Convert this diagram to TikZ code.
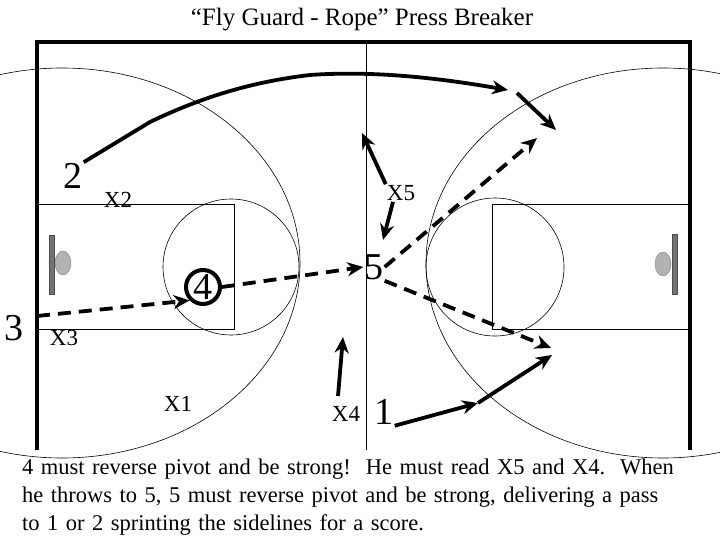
\documentclass[tikz,border=0pt]{standalone}
\usepackage{fontspec}
\setmainfont{Liberation Serif}
\usetikzlibrary{arrows.meta}
\begin{document}
\begin{tikzpicture}[x=1pt,y=-1pt,
 court/.style={line width=0.6pt},
 edge/.style={line width=3.5pt},
 run/.style={line width=3.8pt,-{Stealth[length=16pt,width=14pt]}},
 pass/.style={run,dash pattern=on 13pt off 8pt},
 off/.style={font=\fontsize{38}{38}\selectfont,inner sep=1pt},
 def/.style={font=\fontsize{23}{23}\selectfont,inner sep=1pt}]
\useasboundingbox (0,0) rectangle (720,540);
\begin{scope}
\clip (0,30) rectangle (720,458);
\draw[court] (62,263) ellipse [x radius=238, y radius=195];
\draw[court] (663,263) ellipse [x radius=237, y radius=195];
\end{scope}
\draw[edge] (37,450) -- (37,42) -- (690,42) -- (690,450);
\draw[court] (366,42) -- (366,450);
\draw[court] (37,204) -- (234,204) -- (234,329) -- (37,329);
\draw[court] (231,267) circle [radius=68];
\draw[court] (690,204) -- (492,204) -- (492,329) -- (690,329);
\draw[court] (495,267) circle [radius=69];
\draw[fill=gray!90!black,draw=black!70] (49,235) rectangle (54,294);
\draw[fill=gray!60,draw=black!50] (63,263) ellipse [x radius=8, y radius=12];
\draw[fill=gray!90!black,draw=black!70] (672,234) rectangle (677,294);
\draw[fill=gray!60,draw=black!50] (663,264) ellipse [x radius=8, y radius=12];
\node[font=\fontsize{25}{25}\selectfont] (title) at (362,20) {“Fly Guard - Rope” Press Breaker};
\node[off] (p2) at (73,176) {2};
\node[off] (p3) at (14,328) {3};
\node[off,circle,draw,line width=4pt,inner sep=0pt,minimum size=34pt] (p4) at (203,287) {4};
\node[off] (p5) at (374,267) {5};
\node[off] (p1) at (384,412) {1};
\node[def] (x2) at (118,200) {X2};
\node[def] (x5) at (401,193) {X5};
\node[def] (x3) at (64,338) {X3};
\node[def] (x1) at (178,404) {X1};
\node[def] (x4) at (346,414) {X4};
\coordinate (a2) at (508,90);
\coordinate (a2b) at (517,93);
\coordinate (a2c) at (556,130);
\coordinate (s3) at (37,316);
\coordinate (q1) at (537,138);
\coordinate (q2) at (551,348);
\coordinate (m1) at (478,403);
\coordinate (e1) at (552,355);
\draw[run] (p2.north east) -- (150,122) .. controls (200,98) and (250,82) .. (310,75) .. controls (380,70) and (450,80) .. (a2);
\draw[run] (a2b) -- (a2c);
\draw[pass] (s3) -- (p4.south west);
\draw[pass] (p4.east) -- (p5.west);
\draw[pass] (p5.east) -- (q1);
\draw[pass] (p5.south east) -- (q2);
\draw[run] (p1.south east) -- (m1);
\draw[run] (m1) -- (e1);
\draw[run] (x5.north west) -- (362,133);
\draw[run] (x5.south) ++(-8,0) -- (383,240);
\draw[run] (338,396) -- (343,337);
\node[def,anchor=north west,align=left,text width=700pt,inner sep=0pt,font=\fontsize{22.5}{28}\selectfont] (txt) at (22,459) {4 must reverse pivot and be strong!\ \ He must read X5 and X4.\ \ When\\he throws to 5, 5 must reverse pivot and be strong, delivering a pass\\to 1 or 2 sprinting the sidelines for a score.};
\end{tikzpicture}
\end{document}
